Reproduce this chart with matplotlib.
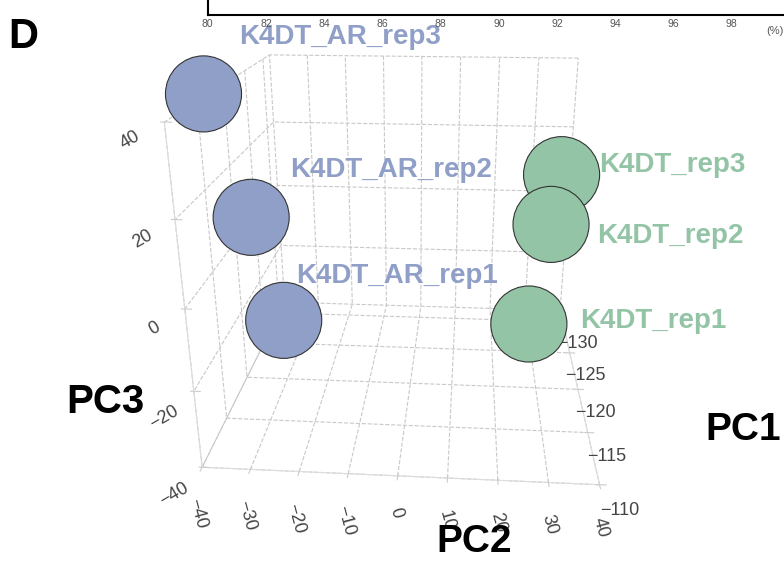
import matplotlib
matplotlib.use("Agg")
import matplotlib.pyplot as plt
from mpl_toolkits.mplot3d import proj3d

plt.rcParams['font.family'] = ['Liberation Sans', 'DejaVu Sans']
plt.rcParams['grid.linestyle'] = '--'
plt.rcParams['grid.color'] = '#c8c8c8'
plt.rcParams['grid.linewidth'] = 0.8

# PCA coordinates
samples = ['K4DT_AR_rep3', 'K4DT_AR_rep2', 'K4DT_AR_rep1',
           'K4DT_rep3', 'K4DT_rep2', 'K4DT_rep1']
pc1 = [-112, -112, -112, -116, -112, -112]
pc2 = [-35, -28, -23, 31, 28, 25]
pc3 = [44, 18, -6, 24, 18, -5]
groups = ['AR', 'AR', 'AR', 'WT', 'WT', 'WT']
colors = {'AR': '#8f9fc7', 'WT': '#94c4a6'}

pc1_ticks = [-130, -125, -120, -115, -110]
pc2_ticks = [-40, -30, -20, -10, 0, 10, 20, 30, 40]
pc3_ticks = [-40, -20, 0, 20, 40]

# neighbouring panel axis (top strip)
top_ticks = [80, 82, 84, 86, 88, 90, 92, 94, 96, 98]

fig = plt.figure(figsize=(7.84, 5.62), dpi=100)

# --- 3D PCA plot ---
ax = fig.add_axes([0.115, 0.06, 0.8, 1.0], projection='3d',
                  proj_type='persp', focal_length=0.27)
ax.view_init(elev=21, azim=-86)
ax.set_xlim(-40, 40)
ax.set_ylim(-110, -132)
ax.set_zlim(-40, 40)
ax.set_box_aspect((1.12, 1.1, 1), zoom=1.0)

for a in (ax.xaxis, ax.yaxis, ax.zaxis):
    a.set_pane_color((1, 1, 1, 1))
    a.line.set_color('#dddddd')
    a._axinfo['grid']['linestyle'] = '--'
ax.zaxis.set_ticks_position('upper')

ax.set_xticks(pc2_ticks)
ax.set_yticks(pc1_ticks)
ax.set_zticks(pc3_ticks)
ax.tick_params(axis='both', labelsize=13, labelcolor='#444444', color='#cccccc')
ax.tick_params(axis='x', labelrotation=-75)
ax.tick_params(axis='z', labelrotation=30)

ax.scatter(pc2, pc1, pc3, s=3000, c=[colors[g] for g in groups],
           edgecolors='#333333', linewidths=0.8, depthshade=False, alpha=1)

fig.canvas.draw()
M = ax.get_proj()
offsets = [(26, 41), (28, 34), (9, 32), (27, 7), (33, -8), (37, 2)]
for name, x, y, z, g, off in zip(samples, pc2, pc1, pc3, groups, offsets):
    px, py, _ = proj3d.proj_transform(x, y, z, M)
    ax.annotate(name, xy=(px, py), xytext=off, textcoords='offset points',
                fontsize=20, fontweight='bold', color=colors[g],
                ha='left', va='center')

# --- remnant of the panel above ---
top = fig.add_axes([0.265, 0.973, 0.75, 0.1])
top.set_xlim(80, 100.2)
top.set_xticks(top_ticks)
top.tick_params(axis='x', length=0, labelsize=7.5, labelcolor='#555555', pad=3)
top.set_yticks([])
top.spines['right'].set_visible(False)
top.spines['top'].set_visible(False)
for s in ['left', 'bottom']:
    top.spines[s].set_linewidth(1.5)
fig.text(0.999, 0.945, '(%)', fontsize=8, color='#555555', ha='right', va='center')
fig.text(0.01, 0.935, 'D', fontsize=30, fontweight='bold', va='center')

fig.text(0.135, 0.285, 'PC3', fontsize=29, fontweight='bold', ha='center', va='center')
fig.text(0.605, 0.035, 'PC2', fontsize=28, fontweight='bold', ha='center', va='center')
fig.text(0.948, 0.235, 'PC1', fontsize=28, fontweight='bold', ha='center', va='center')

fig.savefig('out.png', dpi=100)
